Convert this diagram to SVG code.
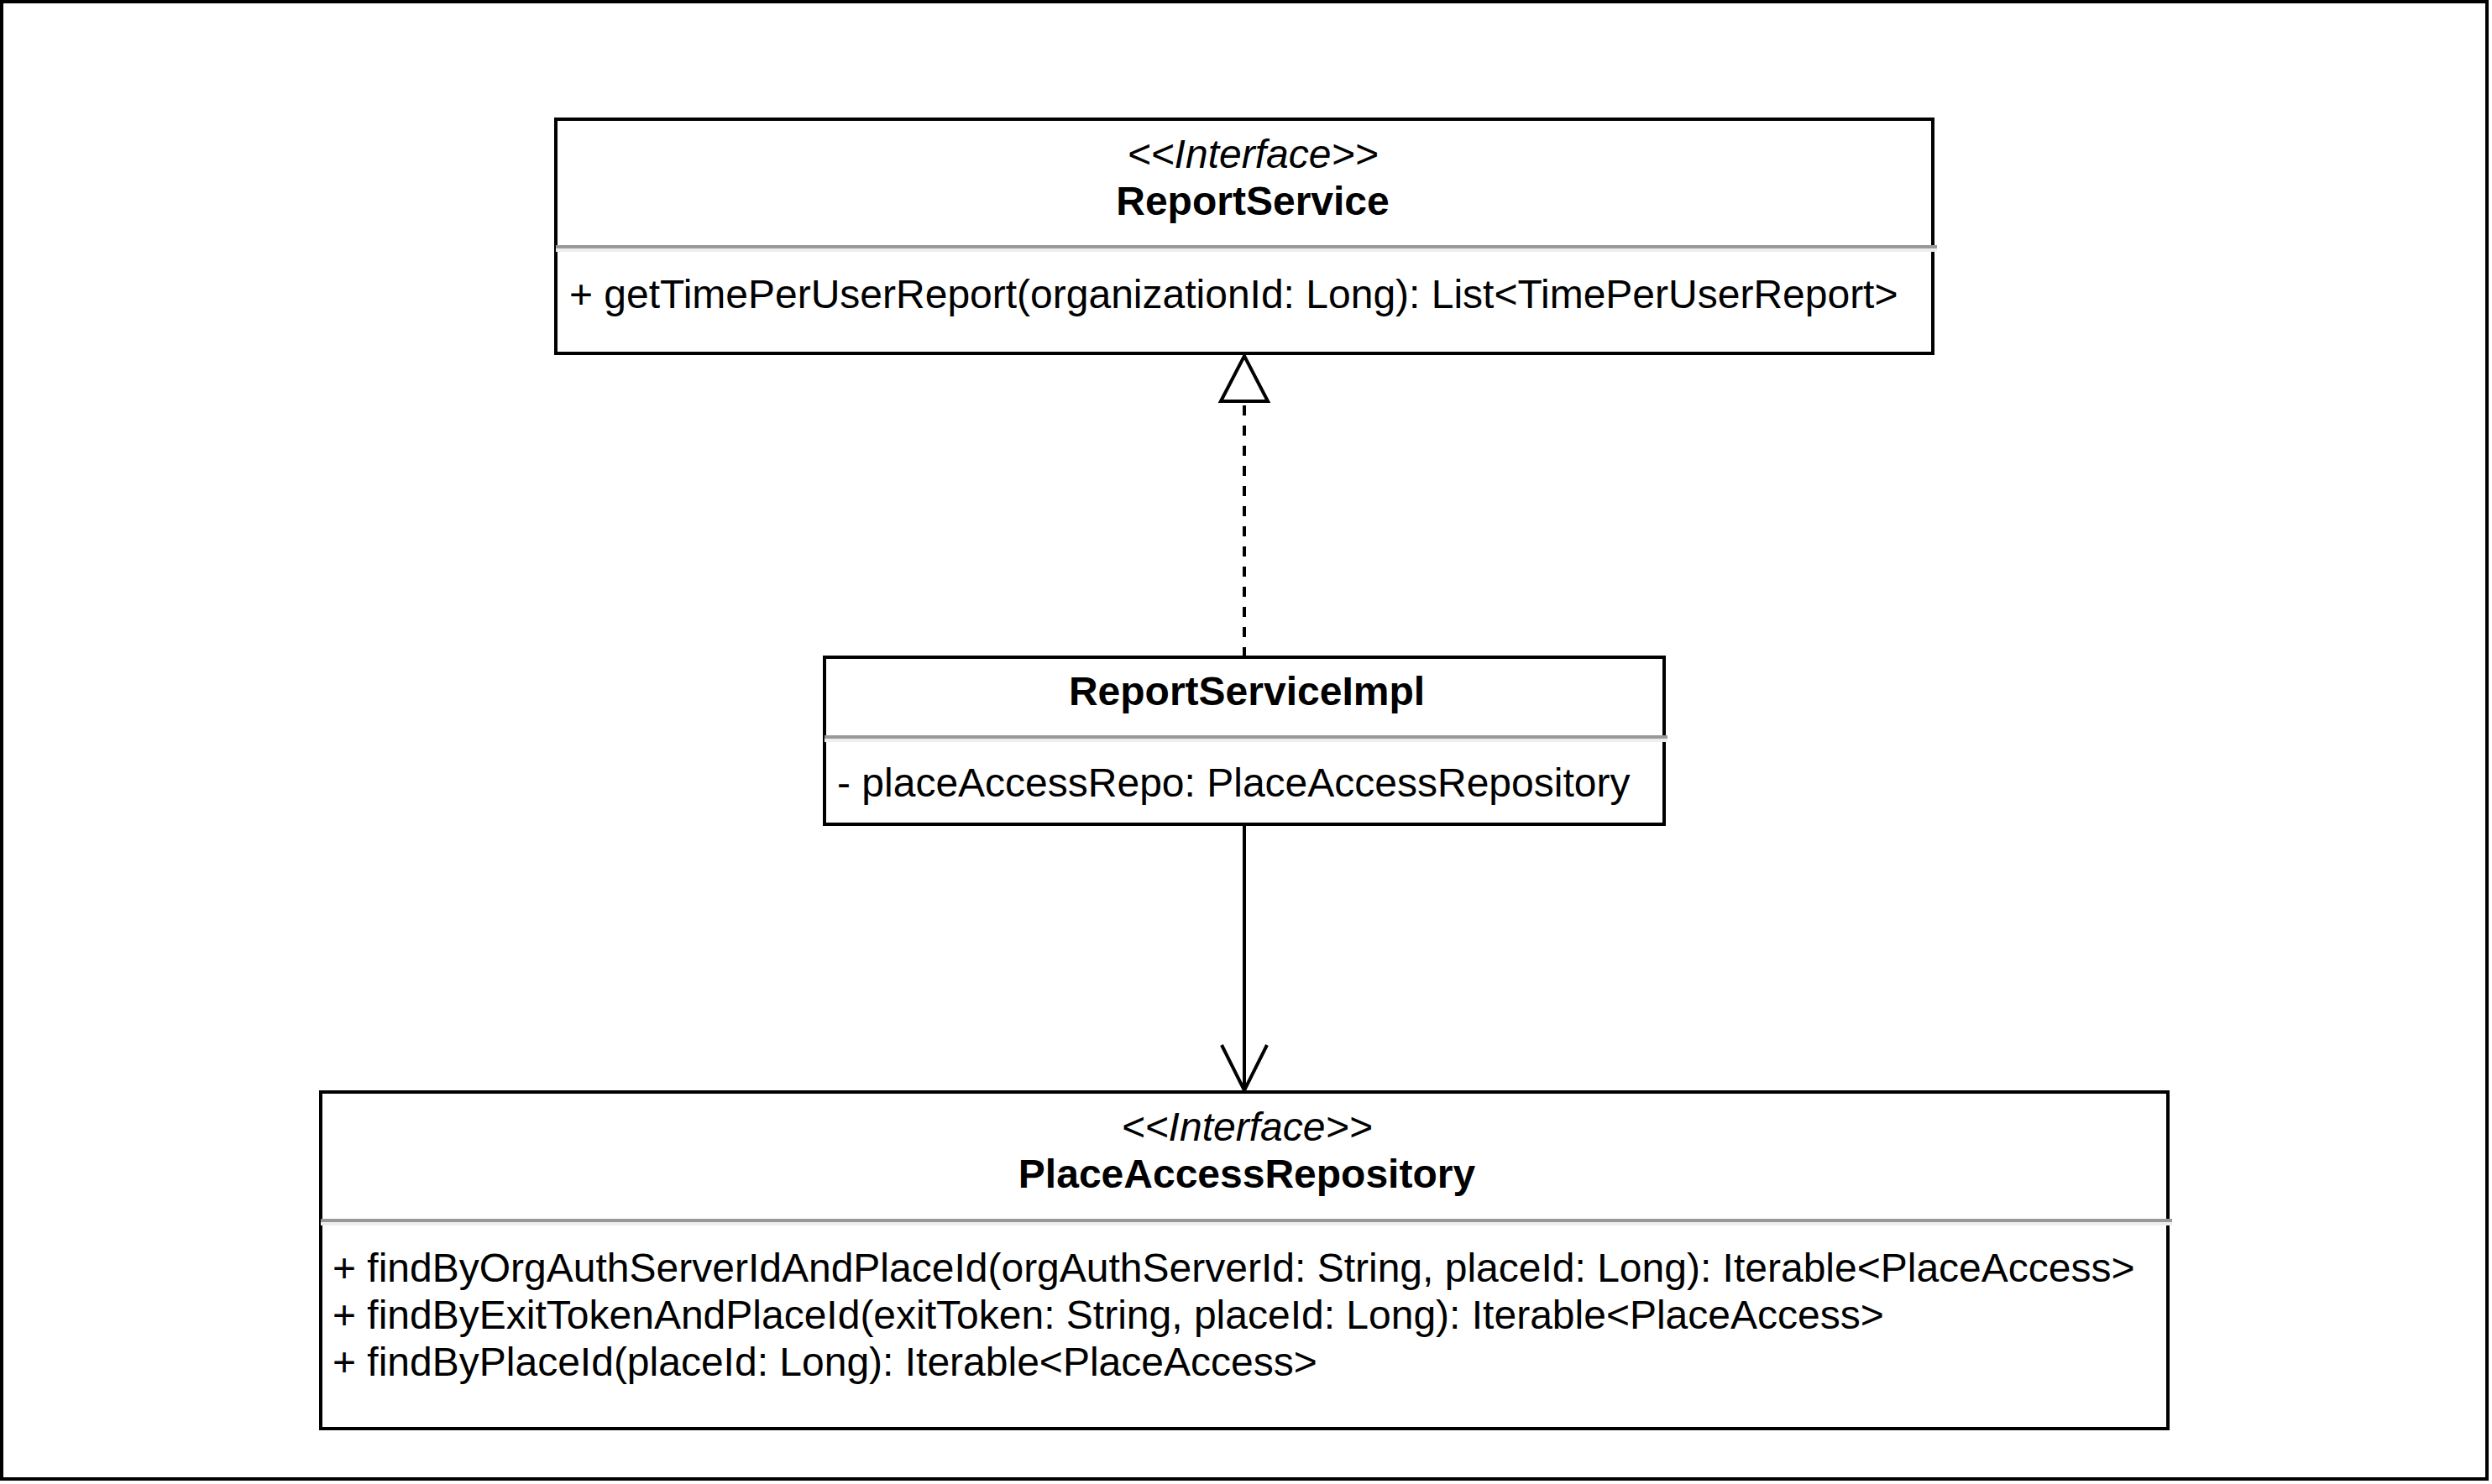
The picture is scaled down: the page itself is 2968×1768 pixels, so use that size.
<svg xmlns="http://www.w3.org/2000/svg" width="2968" height="1768" viewBox="0 0 2968 1768">
  <style>
    .box { fill: #ffffff; stroke: #000000; stroke-width: 4; }
    .sep { stroke: #999999; stroke-width: 4; fill: none; }
    .sep2 { stroke: #eeeeee; stroke-width: 4; fill: none; }
    .t { font-family: "Liberation Sans", Arial, Helvetica, sans-serif; font-size: 48px; fill: #000000; }
    .c { text-anchor: middle; }
    .st { font-style: italic; }
    .nm { font-weight: bold; }
    .edge { stroke: #000000; stroke-width: 4; fill: none; }
    .dash { stroke-dasharray: 12 12; }
  </style>
  <defs>
    <marker id="realize" markerUnits="userSpaceOnUse" refX="0" refY="0" markerWidth="60" markerHeight="60" orient="auto" overflow="visible">
      <path d="M0,-28 L54,0 L0,28 Z" fill="#ffffff" stroke="#000000" stroke-width="4" stroke-linejoin="miter"/>
    </marker>
    <marker id="open" markerUnits="userSpaceOnUse" refX="0" refY="0" markerWidth="60" markerHeight="60" orient="auto" overflow="visible">
      <path d="M-54,-27 L0,0 L-54,27" fill="none" stroke="#000000" stroke-width="4"/>
    </marker>
  </defs>
  <rect x="0" y="0" width="2968" height="1768" fill="#ffffff"/>
  <rect id="frame" x="2" y="2" width="2960" height="1760" fill="none" stroke="#000000" stroke-width="4"/>

  <g id="connectors">
    <path class="edge dash" d="M1482,783 L1482,478" marker-end="url(#realize)"/>
    <path class="edge" d="M1482,982 L1482,1299" marker-end="url(#open)"/>
  </g>

  <g id="ReportService">
    <rect class="box" x="662" y="142" width="1640" height="279"/>
    <line class="sep" x1="662" y1="294" x2="2307" y2="294"/>
    <line class="sep2" x1="662" y1="298" x2="2307" y2="298"/>
    <text class="t c st" x="1492" y="200">&lt;&lt;Interface&gt;&gt;</text>
    <text class="t c nm" x="1492" y="256">ReportService</text>
    <text class="t" x="678" y="367">+ getTimePerUserReport(organizationId: Long): List&lt;TimePerUserReport&gt;</text>
  </g>

  <g id="ReportServiceImpl">
    <rect class="box" x="982" y="783" width="1000" height="199"/>
    <line class="sep" x1="982" y1="878" x2="1986" y2="878"/>
    <line class="sep2" x1="982" y1="882" x2="1986" y2="882"/>
    <text class="t c nm" x="1485" y="840">ReportServiceImpl</text>
    <text class="t" x="997" y="949">- placeAccessRepo: PlaceAccessRepository</text>
  </g>

  <g id="PlaceAccessRepository">
    <rect class="box" x="382" y="1301" width="2200" height="401"/>
    <line class="sep" x1="382" y1="1454" x2="2587" y2="1454"/>
    <line class="sep2" x1="382" y1="1458" x2="2587" y2="1458"/>
    <text class="t c st" x="1485" y="1359">&lt;&lt;Interface&gt;&gt;</text>
    <text class="t c nm" x="1485" y="1415">PlaceAccessRepository</text>
    <text class="t" x="396" y="1527">+ findByOrgAuthServerIdAndPlaceId(orgAuthServerId: String, placeId: Long): Iterable&lt;PlaceAccess&gt;</text>
    <text class="t" x="396" y="1583">+ findByExitTokenAndPlaceId(exitToken: String, placeId: Long): Iterable&lt;PlaceAccess&gt;</text>
    <text class="t" x="396" y="1639">+ findByPlaceId(placeId: Long): Iterable&lt;PlaceAccess&gt;</text>
  </g>
</svg>
